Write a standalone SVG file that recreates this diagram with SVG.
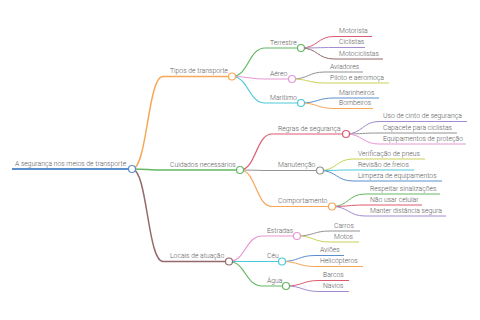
<svg xmlns="http://www.w3.org/2000/svg" width="480" height="320" viewBox="0 0 480 320">
<style>
text{font-family:Roboto,"Liberation Sans",sans-serif;font-size:6.8px;font-weight:300;fill:#5a5a5a}
path{fill:none}
.l0{stroke-width:2.2}
.l1{stroke-width:1.5}
.l2{stroke-width:1.2}
.l3{stroke-width:1}
circle{fill:#fff;stroke-width:1.2}
.blue{stroke:#5a8fcc}.orange{stroke:#f6a757}.green{stroke:#62b862}.red{stroke:#dc5a70}.purple{stroke:#a38bd0}.brown{stroke:#946a6c}.pink{stroke:#e897d4}.gray{stroke:#939393}.olive{stroke:#c9d256}.cyan{stroke:#4ccad8}
</style>
<rect width="480" height="320" fill="#fff"/>
<g id="connectors">
<path class="l0 blue" d="M12 169H132"/>
<path class="l1 orange" d="M132 169C147.5 169 147.5 76.5 163 76.5H232"/>
<path class="l1 green" d="M132 169C147.5 169 147.5 170 163 170H240"/>
<path class="l1 brown" d="M132 169C147.5 169 147.5 261.5 163 261.5H229"/>
<path class="l2 green" d="M232 76.5C248.5 76.5 248.5 48 265 48H301"/>
<path class="l2 pink" d="M232 76.5C248.5 76.5 248.5 79 265 79H292"/>
<path class="l2 cyan" d="M232 76.5C248.5 76.5 248.5 103 265 103H301"/>
<path class="l2 red" d="M240 170C256 170 256 134 272 134H346"/>
<path class="l2 gray" d="M240 170C256 170 256 170.5 272 170.5H320"/>
<path class="l2 orange" d="M240 170C256 170 256 206.5 272 206.5H332"/>
<path class="l2 pink" d="M229 261.5C245.5 261.5 245.5 236 262 236H297"/>
<path class="l2 cyan" d="M229 261.5C245.5 261.5 245.5 261.5 262 261.5H282"/>
<path class="l2 green" d="M229 261.5C245.5 261.5 245.5 286 262 286H286"/>
<path class="l3 red" d="M301 48C317.5 48 317.5 36.5 334 36.5H372"/>
<path class="l3 purple" d="M301 48C317.5 48 317.5 47.5 334 47.5H365"/>
<path class="l3 brown" d="M301 48C317.5 48 317.5 59 334 59H383"/>
<path class="l3 gray" d="M292 79C308.5 79 308.5 72 325 72H363"/>
<path class="l3 olive" d="M292 79C308.5 79 308.5 83 325 83H389"/>
<path class="l3 blue" d="M301 103C317.5 103 317.5 98 334 98H379"/>
<path class="l3 orange" d="M301 103C317.5 103 317.5 108.5 334 108.5H373"/>
<path class="l3 purple" d="M346 134C362.5 134 362.5 121.5 379 121.5H467"/>
<path class="l3 gray" d="M346 134C362.5 134 362.5 133 379 133H457"/>
<path class="l3 pink" d="M346 134C362.5 134 362.5 144 379 144H466"/>
<path class="l3 olive" d="M320 170.5C336.5 170.5 336.5 159 353 159H425"/>
<path class="l3 cyan" d="M320 170.5C336.5 170.5 336.5 170 353 170H414"/>
<path class="l3 blue" d="M320 170.5C336.5 170.5 336.5 181 353 181H442"/>
<path class="l3 green" d="M332 206.5C348.5 206.5 348.5 194 365 194H440"/>
<path class="l3 red" d="M332 206.5C348.5 206.5 348.5 205 365 205H422"/>
<path class="l3 purple" d="M332 206.5C348.5 206.5 348.5 216 365 216H446"/>
<path class="l3 gray" d="M297 236C313.5 236 313.5 231 330 231H360"/>
<path class="l3 olive" d="M297 236C313.5 236 313.5 242 330 242H359"/>
<path class="l3 blue" d="M282 261.5C298.5 261.5 298.5 255.5 315 255.5H344"/>
<path class="l3 orange" d="M282 261.5C298.5 261.5 298.5 266.5 315 266.5H363"/>
<path class="l3 red" d="M286 286C302.5 286 302.5 280.5 319 280.5H349"/>
<path class="l3 purple" d="M286 286C302.5 286 302.5 291.5 319 291.5H349"/>
</g>
<g id="root"><text x="15" y="165.5">A segurança nos meios de transporte</text><circle class="blue" cx="132" cy="169" r="3.5"/></g>
<g id="tipos"><text x="170" y="73">Tipos de transporte</text><circle class="orange" cx="232" cy="76.5" r="3.5"/></g>
<g id="cuidados"><text x="170" y="166.5">Cuidados necessários</text><circle class="green" cx="240" cy="170" r="3.5"/></g>
<g id="locais"><text x="170" y="258">Locais de atuação</text><circle class="brown" cx="229" cy="261.5" r="3.5"/></g>
<g id="terrestre"><text x="270" y="44.5">Terrestre</text><circle class="green" cx="301" cy="48" r="3.5"/></g>
<g id="aereo"><text x="270" y="75.5">Aéreo</text><circle class="pink" cx="292" cy="79" r="3.5"/></g>
<g id="maritimo"><text x="270" y="99.5">Marítimo</text><circle class="cyan" cx="301" cy="103" r="3.5"/></g>
<g id="regras"><text x="278" y="130.5">Regras de segurança</text><circle class="red" cx="346" cy="134" r="3.5"/></g>
<g id="manutencao"><text x="278" y="167">Manutenção</text><circle class="gray" cx="320" cy="170.5" r="3.5"/></g>
<g id="comportamento"><text x="278" y="203">Comportamento</text><circle class="orange" cx="332" cy="206.5" r="3.5"/></g>
<g id="estradas"><text x="267" y="232.5">Estradas</text><circle class="pink" cx="297" cy="236" r="3.5"/></g>
<g id="ceu"><text x="267" y="258">Céu</text><circle class="cyan" cx="282" cy="261.5" r="3.5"/></g>
<g id="agua"><text x="267" y="282.5">Água</text><circle class="green" cx="286" cy="286" r="3.5"/></g>
<g id="motorista"><text x="339" y="33">Motorista</text></g>
<g id="ciclistas"><text x="339" y="44">Ciclistas</text></g>
<g id="motociclistas"><text x="339" y="55.5">Motociclistas</text></g>
<g id="aviadores"><text x="330" y="68.5">Aviadores</text></g>
<g id="piloto"><text x="330" y="79.5">Piloto e aeromoça</text></g>
<g id="marinheiros"><text x="339" y="94.5">Marinheiros</text></g>
<g id="bombeiros"><text x="339" y="105">Bombeiros</text></g>
<g id="cinto"><text x="383" y="118">Uso de cinto de segurança</text></g>
<g id="capacete"><text x="383" y="129.5">Capacete para ciclistas</text></g>
<g id="equipamentos"><text x="383" y="140.5">Equipamentos de proteção</text></g>
<g id="pneus"><text x="358" y="155.5">Verificação de pneus</text></g>
<g id="freios"><text x="358" y="166.5">Revisão de freios</text></g>
<g id="limpeza"><text x="358" y="177.5">Limpeza de equipamentos</text></g>
<g id="sinalizacoes"><text x="370" y="190.5">Respeitar sinalizações</text></g>
<g id="celular"><text x="370" y="201.5">Não usar celular</text></g>
<g id="distancia"><text x="370" y="212.5">Manter distância segura</text></g>
<g id="carros"><text x="334" y="227.5">Carros</text></g>
<g id="motos"><text x="334" y="238.5">Motos</text></g>
<g id="avioes"><text x="320" y="252">Aviões</text></g>
<g id="helicopteros"><text x="320" y="263">Helicópteros</text></g>
<g id="barcos"><text x="323" y="277">Barcos</text></g>
<g id="navios"><text x="323" y="288">Navios</text></g>
</svg>
